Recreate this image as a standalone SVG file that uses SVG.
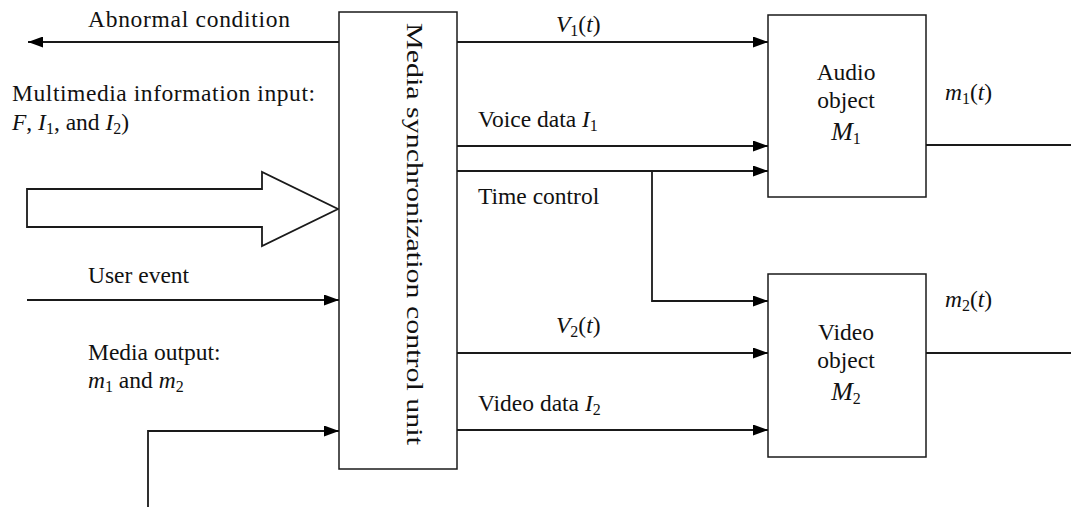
<svg xmlns="http://www.w3.org/2000/svg" width="1071" height="507" viewBox="0 0 1071 507">
<style>
text{font-family:"Liberation Serif","Times New Roman",serif;font-size:23.5px;fill:#111}
.i{font-style:italic}
.s{font-size:16px}
.ln{fill:none;stroke:#1a1a1a;stroke-width:1.8}
.bx{fill:#fff;stroke:#1a1a1a;stroke-width:1.5}
</style>
<defs>
<marker id="ah" viewBox="0 0 15 11" refX="15" refY="5.5" markerWidth="15" markerHeight="11" markerUnits="userSpaceOnUse" orient="auto">
<path d="M0,0 L15,5.5 L0,11 Z" fill="#000"/>
</marker>
</defs>
<rect width="1071" height="507" fill="#fff"/>
<g id="connectors">
<line class="ln" x1="339" y1="42" x2="28" y2="42" marker-end="url(#ah)"/>
<path class="ln" d="M27,189 H262 V172 L338,209 L262,246 V227 H27 Z" stroke-width="1.3" fill="#fff"/>
<line class="ln" x1="27" y1="300" x2="339" y2="300" marker-end="url(#ah)"/>
<path class="ln" d="M148,507 V431 H339" marker-end="url(#ah)"/>
<line class="ln" x1="457" y1="42" x2="768" y2="42" marker-end="url(#ah)"/>
<line class="ln" x1="457" y1="146" x2="768" y2="146" marker-end="url(#ah)"/>
<line class="ln" x1="457" y1="171" x2="768" y2="171" marker-end="url(#ah)"/>
<path class="ln" d="M652,171 V301 H768" marker-end="url(#ah)"/>
<line class="ln" x1="457" y1="353" x2="768" y2="353" marker-end="url(#ah)"/>
<line class="ln" x1="457" y1="430" x2="768" y2="430" marker-end="url(#ah)"/>
<line class="ln" x1="926" y1="145" x2="1071" y2="145"/>
<line class="ln" x1="926" y1="353" x2="1071" y2="353"/>
</g>
<g id="control-unit">
<rect class="bx" x="339" y="12" width="118" height="457"/>
<text transform="translate(407,23) rotate(90)" textLength="422" lengthAdjust="spacingAndGlyphs" font-size="29">Media synchronization control unit</text>
</g>
<g id="audio-object">
<rect class="bx" x="768" y="15" width="158" height="182"/>
<text x="846" y="80" text-anchor="middle" font-size="24">Audio</text>
<text x="846" y="108" text-anchor="middle" font-size="24">object</text>
<text x="846" y="140" text-anchor="middle"><tspan class="i" font-size="26">M</tspan><tspan class="s" dy="4">1</tspan></text>
</g>
<g id="video-object">
<rect class="bx" x="768" y="274" width="158" height="183"/>
<text x="846" y="340" text-anchor="middle" font-size="24">Video</text>
<text x="846" y="368" text-anchor="middle" font-size="24">object</text>
<text x="846" y="400" text-anchor="middle"><tspan class="i" font-size="26">M</tspan><tspan class="s" dy="4">2</tspan></text>
</g>
<g id="labels">
<text x="88" y="27" textLength="202" lengthAdjust="spacing" font-size="22">Abnormal condition</text>
<text x="12" y="101" textLength="303" lengthAdjust="spacing">Multimedia information input:</text>
<text x="12" y="130"><tspan class="i">F</tspan>, <tspan class="i">I</tspan><tspan class="s" dy="4">1</tspan><tspan dy="-4">, and </tspan><tspan class="i">I</tspan><tspan class="s" dy="4">2</tspan><tspan dy="-4">)</tspan></text>
<text x="88" y="283" font-size="24">User event</text>
<text x="88" y="360">Media output:</text>
<text x="88" y="388"><tspan class="i">m</tspan><tspan class="s" dy="4">1</tspan><tspan dy="-4"> and </tspan><tspan class="i">m</tspan><tspan class="s" dy="4">2</tspan></text>
<text x="556" y="32"><tspan class="i">V</tspan><tspan class="s" dy="4">1</tspan><tspan dy="-4">(</tspan><tspan class="i">t</tspan>)</text>
<text x="478" y="127">Voice data <tspan class="i">I</tspan><tspan class="s" dy="4">1</tspan></text>
<text x="478" y="204">Time  control</text>
<text x="556" y="333"><tspan class="i">V</tspan><tspan class="s" dy="4">2</tspan><tspan dy="-4">(</tspan><tspan class="i">t</tspan>)</text>
<text x="478" y="411">Video data <tspan class="i">I</tspan><tspan class="s" dy="4">2</tspan></text>
<text x="945" y="100" font-size="22"><tspan class="i">m</tspan><tspan class="s" dy="4" font-size="15">1</tspan><tspan dy="-4">(</tspan><tspan class="i">t</tspan>)</text>
<text x="945" y="307" font-size="22"><tspan class="i">m</tspan><tspan class="s" dy="4" font-size="15">2</tspan><tspan dy="-4">(</tspan><tspan class="i">t</tspan>)</text>
</g>
</svg>
